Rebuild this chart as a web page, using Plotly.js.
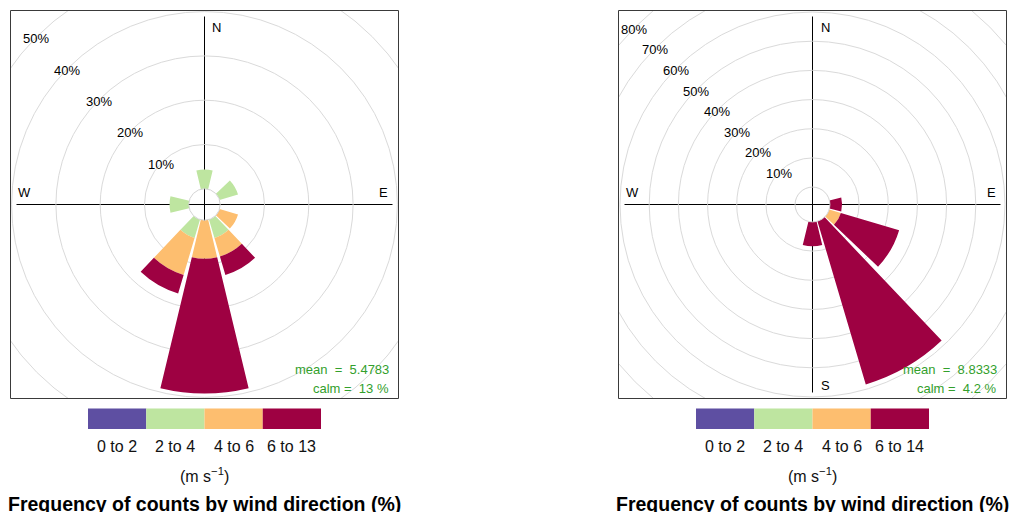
<!DOCTYPE html>
<html>
<head>
<meta charset="utf-8">
<script src="https://cdn.plot.ly/plotly-3.0.1.min.js"></script>
<style>
html,body{margin:0;padding:0;overflow:hidden;width:1010px;height:512px;background:#fff;}
#chart{position:absolute;left:-80px;top:-80px;width:1180px;height:592px;}
</style>
</head>
<body>
<div id="chart"></div>
<script>
// ---------------- data ----------------
const directions = [0, 30, 60, 90, 120, 150, 180, 210, 240, 270, 300, 330];

// left rose (percent of counts)
const leftBins   = ["0 to 2", "2 to 4", "4 to 6", "6 to 13"];
const left_0to2  = [0, 0, 0, 0, 0, 0, 0, 0, 0, 0, 0, 0];
const left_2to4  = [4.35, 0, 4.35, 0, 0, 4.35, 0, 4.35, 0, 4.35, 0, 0];
const left_4to6  = [0, 0, 0, 0, 4.35, 4.35, 8.70, 8.70, 0, 0, 0, 0];
const left_6to13 = [0, 0, 0, 0, 0, 4.35, 30.43, 4.35, 0, 0, 0, 0];
const leftMean = "5.4783";
const leftCalm = "13";
const leftRingLabels = [10, 20, 30, 40, 50];

// right rose (percent of counts)
const rightBins   = ["0 to 2", "2 to 4", "4 to 6", "6 to 14"];
const right_0to2  = [0, 0, 0, 0, 0, 0, 0, 0, 0, 0, 0, 0];
const right_2to4  = [0, 0, 0, 0, 0, 0, 0, 0, 0, 0, 0, 0];
const right_4to6  = [0, 0, 0, 0, 4.17, 0, 0, 0, 0, 0, 0, 0];
const right_6to14 = [0, 0, 0, 4.17, 20.83, 58.33, 8.33, 0, 0, 0, 0, 0];
const rightMean = "8.8333";
const rightCalm = "4.2";
const rightRingLabels = [10, 20, 30, 40, 50, 60, 70, 80];

const binColours = ["#5E4FA2", "#BEE5A0", "#FDBE6F", "#9E0142"];
const titleText = "Frequency of counts by wind direction (%)";
const unitText = "(m s<sup>\u22121</sup>)";

// ---------------- geometry helpers ----------------
const PADL = 80, PADT = 80, FW = 1180, FH = 592;
const px = X => (X + PADL) / FW;
const py = Y => 1 - (Y + PADT) / FH;
const FONT = "Liberation Sans, Arial, sans-serif";

const panels = [
  {cx: 204.5, cy: 204.5, half: 194, hole: 15.7, step: 44.3, rmax: 60,
   series: [left_0to2, left_2to4, left_4to6, left_6to13], bins: leftBins,
   mean: leftMean, calm: leftCalm, rings: leftRingLabels, showS: false},
  {cx: 812.5, cy: 204.5, half: 194, hole: 17.4, step: 29.18, rmax: 90,
   series: [right_0to2, right_2to4, right_4to6, right_6to14], bins: rightBins,
   mean: rightMean, calm: rightCalm, rings: rightRingLabels, showS: true}
];

const traces = [];
const layout = {
  width: FW, height: FH,
  margin: {l: 0, r: 0, t: 0, b: 0},
  paper_bgcolor: "#ffffff",
  showlegend: false,
  shapes: [],
  annotations: []
};

const belowShapes = [], maskShapes = [], frameShapes = [], keyShapes = [];

panels.forEach((p, k) => {
  const sub = k === 0 ? "polar" : "polar2";
  const R = p.hole + p.step * p.rmax / 10;
  p.series.forEach((vals, i) => {
    traces.push({
      type: "barpolar", subplot: sub, name: p.bins[i],
      r: vals, theta: directions, width: 27,
      marker: {color: binColours[i], line: {width: 0}},
      hoverinfo: "skip"
    });
  });
  layout[sub] = {
    domain: {x: [px(p.cx - R), px(p.cx + R)], y: [py(p.cy + R), py(p.cy - R)]},
    hole: p.hole / R,
    bgcolor: "rgba(0,0,0,0)",
    barmode: "stack",
    angularaxis: {rotation: 90, direction: "clockwise", showgrid: false,
      showticklabels: false, ticks: "", showline: true, linecolor: "#d4d4d4", linewidth: 1},
    radialaxis: {range: [0, p.rmax], tick0: 0, dtick: 10, showgrid: true,
      gridcolor: "#dadada", gridwidth: 1, showline: false, showticklabels: false, ticks: ""}
  };

  // black cross lines (under bars)
  const L = 188;
  belowShapes.push({type: "line", xref: "paper", yref: "paper", layer: "below",
    x0: px(p.cx - L), x1: px(p.cx + L), y0: py(p.cy), y1: py(p.cy), line: {color: "#000", width: 1}});
  belowShapes.push({type: "line", xref: "paper", yref: "paper", layer: "below",
    x0: px(p.cx), x1: px(p.cx), y0: py(p.cy - L), y1: py(p.cy + L), line: {color: "#000", width: 1}});

  // frame
  frameShapes.push({type: "rect", xref: "paper", yref: "paper", layer: "above",
    x0: px(p.cx - p.half), x1: px(p.cx + p.half), y0: py(p.cy + p.half), y1: py(p.cy - p.half),
    line: {color: "#3a3a3a", width: 1}, fillcolor: "rgba(0,0,0,0)"});

  // compass letters
  const ann = (x, y, text, opts) => Object.assign({xref: "paper", yref: "paper", x: px(x), y: py(y),
    text: text, showarrow: false, xanchor: "center", yanchor: "middle",
    font: {family: FONT, size: 13, color: "#000"}}, opts || {});
  layout.annotations.push(ann(p.cx + 12.5, p.cy - 177, "N"));
  layout.annotations.push(ann(p.cx + 178.5, p.cy - 11.7, "E"));
  layout.annotations.push(ann(p.cx - 180, p.cy - 11.7, "W"));
  if (p.showS) layout.annotations.push(ann(p.cx + 12.5, p.cy + 180.5, "S"));

  // ring labels along the NW diagonal
  p.rings.forEach(v => {
    const r = p.hole + p.step * v / 10;
    const d = r * Math.SQRT1_2;
    layout.annotations.push(ann(p.cx - d - 0.8, p.cy - d + 2, v + "%"));
  });

  // mean / calm
  layout.annotations.push(ann(p.cx + 186.5, p.cy + 165, "mean&nbsp; =&nbsp; " + p.mean,
    {xanchor: "right", font: {family: FONT, size: 13, color: "#33a02c"}}));
  layout.annotations.push(ann(p.cx + 186.5, p.cy + 184, "calm =&nbsp; " + p.calm + " %",
    {xanchor: "right", font: {family: FONT, size: 13, color: "#33a02c"}}));

  // colour key
  const kw = 58.25, kx0 = p.cx - 2 * kw;
  p.bins.forEach((b, i) => {
    keyShapes.push({type: "rect", xref: "paper", yref: "paper", layer: "above",
      x0: px(kx0 + i * kw), x1: px(kx0 + (i + 1) * kw), y0: py(429), y1: py(408.5),
      line: {width: 0}, fillcolor: binColours[i]});
    layout.annotations.push(ann(kx0 + (i + 0.5) * kw, 446, b, {font: {family: FONT, size: 16, color: "#111"}}));
  });
  layout.annotations.push(ann(p.cx, 475, unitText, {font: {family: FONT, size: 16, color: "#111"}}));
  layout.annotations.push(ann(p.cx, 503.5, "<b>" + titleText + "</b>", {font: {family: FONT, size: 19.5, color: "#000"}}));
});

// white masks outside the two square frames
const fTop = 10.5, fBot = 398.5;
const masks = [
  [-PADL, -PADT, FW, fTop],
  [-PADL, fBot, FW, FH],
  [-PADL, -PADT, panels[0].cx - panels[0].half, FH],
  [panels[0].cx + panels[0].half, -PADT, panels[1].cx - panels[1].half, FH],
  [panels[1].cx + panels[1].half, -PADT, FW, FH]
];
masks.forEach(m => maskShapes.push({type: "rect", xref: "paper", yref: "paper", layer: "above",
  x0: px(m[0]), x1: px(m[2]), y0: py(m[3]), y1: py(m[1]),
  line: {width: 0}, fillcolor: "#ffffff"}));

layout.shapes = belowShapes.concat(maskShapes, frameShapes, keyShapes);

Plotly.newPlot("chart", traces, layout, {staticPlot: true, displayModeBar: false});
</script>
</body>
</html>
